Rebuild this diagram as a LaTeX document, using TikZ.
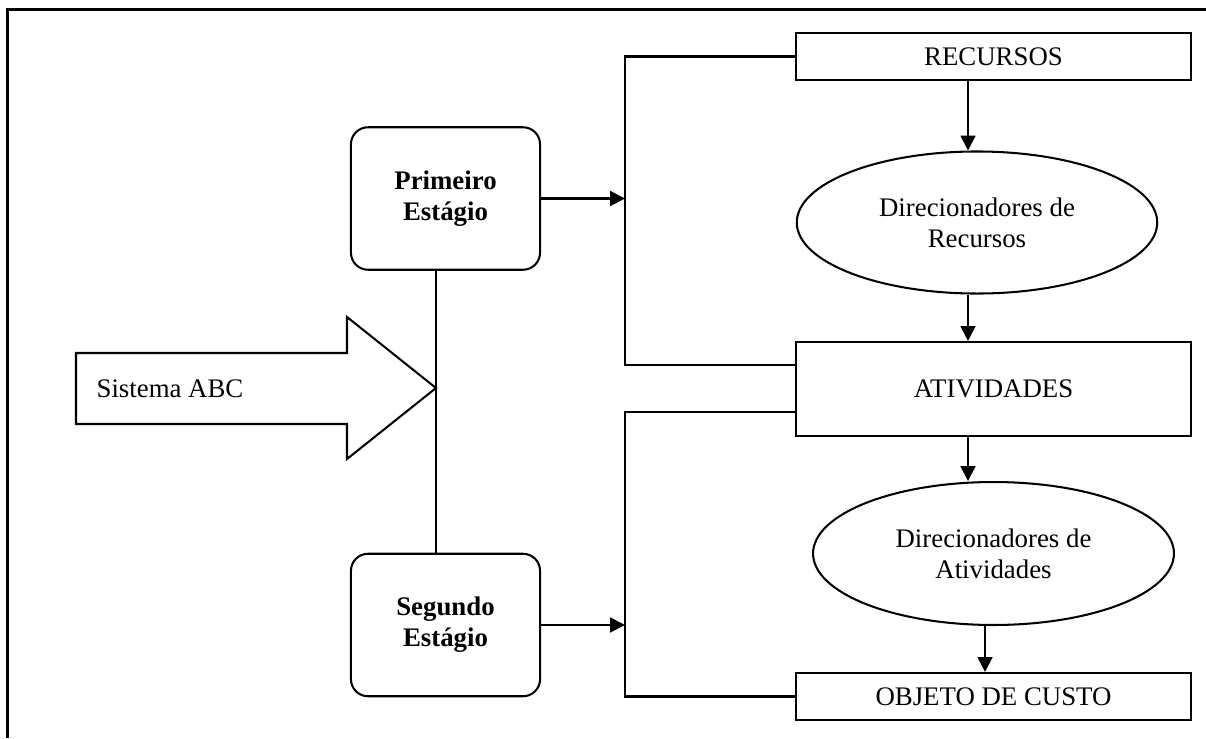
\documentclass[tikz,border=0pt]{standalone}
\usepackage{fontspec}
\setmainfont{Liberation Serif}
\usetikzlibrary{%
  arrows.meta,%
  calc,%
  shapes.geometric,%
}

\begin{document}
\begin{tikzpicture}[x=0.44pt, y=-0.44pt, line width=0.9pt,
    >={Triangle[length=6.5pt, width=6.5pt]},
    font=\fontsize{11.8}{13.6}\selectfont,
    caixa/.style={draw, rectangle, minimum width=173.8pt, inner sep=0pt},
    estagio/.style={draw, rounded corners=7.5pt, minimum width=83.2pt,
      minimum height=62.7pt, align=center,
      font=\fontsize{11.8}{13.6}\selectfont\bfseries},
    direc/.style={draw, ellipse, minimum width=158.6pt, minimum height=62.5pt,
      align=center, inner sep=0pt}]

      \useasboundingbox (0, 0) rectangle (1206, 738);

      % moldura
      \draw [line width=1.2pt] (7.5, 738) -- (7.5, 9.5) -- (1206, 9.5);

      % coluna da direita
      \node[caixa, minimum height=20.7pt] (recursos) at (993.5, 56.5) {RECURSOS};
      \node[direc] (dirrec) at (977, 222.5) {Direcionadores de\\Recursos};
      \node[caixa, minimum height=41.4pt] (ativ) at (993.5, 389) {ATIVIDADES};
      \node[direc, minimum width=158.8pt, minimum height=62.9pt] (dirativ)
        at (993.5, 553.5) {Direcionadores de\\Atividades};
      \node[caixa, minimum height=20.7pt] (objeto) at (993.5, 696.5) {OBJETO DE CUSTO};

      \coordinate (eixo1) at (968, 0);
      \coordinate (eixo2) at (985, 0);
      \draw [->] (recursos.south -| eixo1) -- (dirrec.north -| eixo1);
      \draw [->] (dirrec.south -| eixo1) -- (ativ.north -| eixo1);
      \draw [->] (ativ.south -| eixo1) -- (dirativ.north -| eixo1);
      \draw [->] (dirativ.south -| eixo2) -- (objeto.north -| eixo2);

      % estagios
      \node[estagio] (primeiro) at (445.5, 198.5) {Primeiro\\Estágio};
      \node[estagio] (segundo) at (445.5, 625) {Segundo\\Estágio};

      % chaves
      \coordinate (chave) at (625, 0);
      \coordinate (at1) at ($(ativ.west)+(0, -24)$);
      \coordinate (at2) at ($(ativ.west)+(0, 23)$);
      \draw (recursos.west) -| (chave |- at1) -- (at1);
      \draw (at2) -| (chave |- objeto.west) -- (objeto.west);
      \draw [->] (primeiro.east) -- (primeiro.east -| chave);
      \draw [->] (segundo.east) -- (segundo.east -| chave);

      % seta grande
      \coordinate (ponta) at (436, 388);
      \draw (76, 353) -- (347, 353) -- (347, 317) -- (ponta)
        -- (347, 459) -- (347, 424) -- (76, 424) -- cycle;
      \node[anchor=west] (sistema) at (88, 389) {Sistema ABC};
      \draw (primeiro.south -| ponta) -- (segundo.north -| ponta);

\end{tikzpicture}
\end{document}
